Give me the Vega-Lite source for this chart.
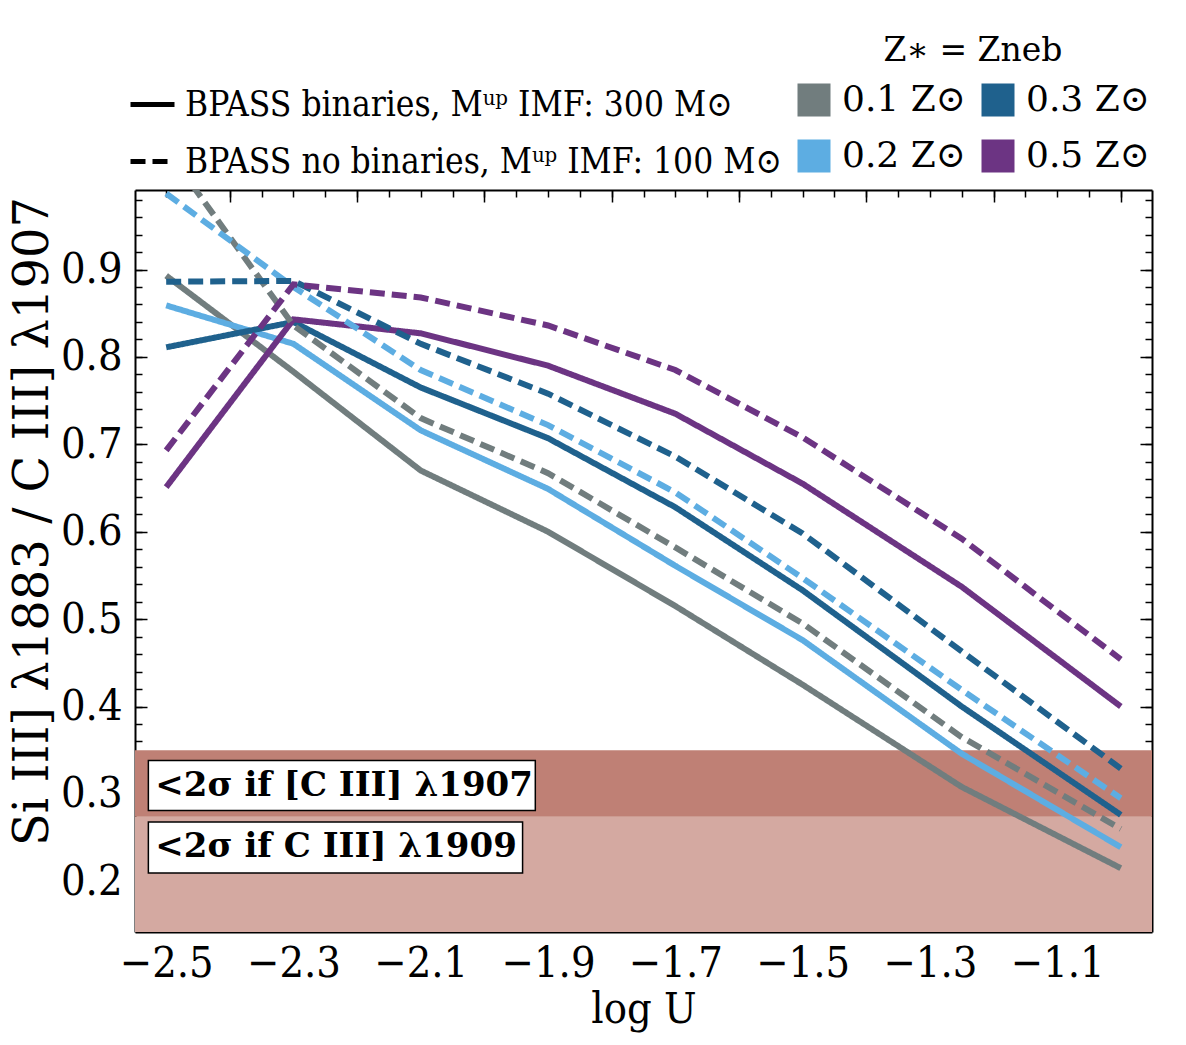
{
  "$schema": "https://vega.github.io/schema/vega-lite/v6.json",
  "autosize": {"type": "none"},
  "padding": {"left": 135, "top": 190, "right": 34, "bottom": 113},
  "width": 1017,
  "height": 742,
  "background": "white",
  "config": {
    "view": {"stroke": null},
    "axis": {"grid": false, "zindex": 1, "tickColor": "black", "domainColor": "black", "labelColor": "black", "titleColor": "black", "labelFont": "'DejaVu Serif Condensed', 'DejaVu Serif', serif", "titleFont": "'DejaVu Serif Condensed', 'DejaVu Serif', serif", "labelFontSize": 43, "titleFontSize": 43, "titleFontWeight": "normal", "tickWidth": 1.5, "domainWidth": 2},
    "legend": {"labelFont": "'DejaVu Serif', serif", "titleFont": "'DejaVu Serif', serif", "labelColor": "black", "titleColor": "black"}
  },
  "datasets": {
    "lines": [
      {"u": -2.5, "r": 0.893, "Z": "0.1 Z⊙", "m": "BPASS binaries, Mᵘᵖ IMF: 300 M⊙"},
      {"u": -2.3, "r": 0.783, "Z": "0.1 Z⊙", "m": "BPASS binaries, Mᵘᵖ IMF: 300 M⊙"},
      {"u": -2.1, "r": 0.670, "Z": "0.1 Z⊙", "m": "BPASS binaries, Mᵘᵖ IMF: 300 M⊙"},
      {"u": -1.9, "r": 0.600, "Z": "0.1 Z⊙", "m": "BPASS binaries, Mᵘᵖ IMF: 300 M⊙"},
      {"u": -1.7, "r": 0.515, "Z": "0.1 Z⊙", "m": "BPASS binaries, Mᵘᵖ IMF: 300 M⊙"},
      {"u": -1.5, "r": 0.425, "Z": "0.1 Z⊙", "m": "BPASS binaries, Mᵘᵖ IMF: 300 M⊙"},
      {"u": -1.25, "r": 0.308, "Z": "0.1 Z⊙", "m": "BPASS binaries, Mᵘᵖ IMF: 300 M⊙"},
      {"u": -1.0, "r": 0.215, "Z": "0.1 Z⊙", "m": "BPASS binaries, Mᵘᵖ IMF: 300 M⊙"},

      {"u": -2.5, "r": 0.859, "Z": "0.2 Z⊙", "m": "BPASS binaries, Mᵘᵖ IMF: 300 M⊙"},
      {"u": -2.3, "r": 0.815, "Z": "0.2 Z⊙", "m": "BPASS binaries, Mᵘᵖ IMF: 300 M⊙"},
      {"u": -2.1, "r": 0.716, "Z": "0.2 Z⊙", "m": "BPASS binaries, Mᵘᵖ IMF: 300 M⊙"},
      {"u": -1.9, "r": 0.649, "Z": "0.2 Z⊙", "m": "BPASS binaries, Mᵘᵖ IMF: 300 M⊙"},
      {"u": -1.7, "r": 0.561, "Z": "0.2 Z⊙", "m": "BPASS binaries, Mᵘᵖ IMF: 300 M⊙"},
      {"u": -1.5, "r": 0.476, "Z": "0.2 Z⊙", "m": "BPASS binaries, Mᵘᵖ IMF: 300 M⊙"},
      {"u": -1.25, "r": 0.346, "Z": "0.2 Z⊙", "m": "BPASS binaries, Mᵘᵖ IMF: 300 M⊙"},
      {"u": -1.0, "r": 0.239, "Z": "0.2 Z⊙", "m": "BPASS binaries, Mᵘᵖ IMF: 300 M⊙"},

      {"u": -2.5, "r": 0.811, "Z": "0.3 Z⊙", "m": "BPASS binaries, Mᵘᵖ IMF: 300 M⊙"},
      {"u": -2.3, "r": 0.840, "Z": "0.3 Z⊙", "m": "BPASS binaries, Mᵘᵖ IMF: 300 M⊙"},
      {"u": -2.1, "r": 0.765, "Z": "0.3 Z⊙", "m": "BPASS binaries, Mᵘᵖ IMF: 300 M⊙"},
      {"u": -1.9, "r": 0.707, "Z": "0.3 Z⊙", "m": "BPASS binaries, Mᵘᵖ IMF: 300 M⊙"},
      {"u": -1.7, "r": 0.628, "Z": "0.3 Z⊙", "m": "BPASS binaries, Mᵘᵖ IMF: 300 M⊙"},
      {"u": -1.5, "r": 0.533, "Z": "0.3 Z⊙", "m": "BPASS binaries, Mᵘᵖ IMF: 300 M⊙"},
      {"u": -1.25, "r": 0.400, "Z": "0.3 Z⊙", "m": "BPASS binaries, Mᵘᵖ IMF: 300 M⊙"},
      {"u": -1.0, "r": 0.276, "Z": "0.3 Z⊙", "m": "BPASS binaries, Mᵘᵖ IMF: 300 M⊙"},

      {"u": -2.5, "r": 0.651, "Z": "0.5 Z⊙", "m": "BPASS binaries, Mᵘᵖ IMF: 300 M⊙"},
      {"u": -2.3, "r": 0.843, "Z": "0.5 Z⊙", "m": "BPASS binaries, Mᵘᵖ IMF: 300 M⊙"},
      {"u": -2.1, "r": 0.827, "Z": "0.5 Z⊙", "m": "BPASS binaries, Mᵘᵖ IMF: 300 M⊙"},
      {"u": -1.9, "r": 0.790, "Z": "0.5 Z⊙", "m": "BPASS binaries, Mᵘᵖ IMF: 300 M⊙"},
      {"u": -1.7, "r": 0.735, "Z": "0.5 Z⊙", "m": "BPASS binaries, Mᵘᵖ IMF: 300 M⊙"},
      {"u": -1.5, "r": 0.655, "Z": "0.5 Z⊙", "m": "BPASS binaries, Mᵘᵖ IMF: 300 M⊙"},
      {"u": -1.25, "r": 0.537, "Z": "0.5 Z⊙", "m": "BPASS binaries, Mᵘᵖ IMF: 300 M⊙"},
      {"u": -1.0, "r": 0.400, "Z": "0.5 Z⊙", "m": "BPASS binaries, Mᵘᵖ IMF: 300 M⊙"},

      {"u": -2.5, "r": 1.038, "Z": "0.1 Z⊙", "m": "BPASS no binaries, Mᵘᵖ IMF: 100 M⊙"},
      {"u": -2.3, "r": 0.836, "Z": "0.1 Z⊙", "m": "BPASS no binaries, Mᵘᵖ IMF: 100 M⊙"},
      {"u": -2.1, "r": 0.730, "Z": "0.1 Z⊙", "m": "BPASS no binaries, Mᵘᵖ IMF: 100 M⊙"},
      {"u": -1.9, "r": 0.667, "Z": "0.1 Z⊙", "m": "BPASS no binaries, Mᵘᵖ IMF: 100 M⊙"},
      {"u": -1.7, "r": 0.582, "Z": "0.1 Z⊙", "m": "BPASS no binaries, Mᵘᵖ IMF: 100 M⊙"},
      {"u": -1.5, "r": 0.495, "Z": "0.1 Z⊙", "m": "BPASS no binaries, Mᵘᵖ IMF: 100 M⊙"},
      {"u": -1.25, "r": 0.365, "Z": "0.1 Z⊙", "m": "BPASS no binaries, Mᵘᵖ IMF: 100 M⊙"},
      {"u": -1.0, "r": 0.260, "Z": "0.1 Z⊙", "m": "BPASS no binaries, Mᵘᵖ IMF: 100 M⊙"},

      {"u": -2.5, "r": 0.987, "Z": "0.2 Z⊙", "m": "BPASS no binaries, Mᵘᵖ IMF: 100 M⊙"},
      {"u": -2.3, "r": 0.880, "Z": "0.2 Z⊙", "m": "BPASS no binaries, Mᵘᵖ IMF: 100 M⊙"},
      {"u": -2.1, "r": 0.785, "Z": "0.2 Z⊙", "m": "BPASS no binaries, Mᵘᵖ IMF: 100 M⊙"},
      {"u": -1.9, "r": 0.722, "Z": "0.2 Z⊙", "m": "BPASS no binaries, Mᵘᵖ IMF: 100 M⊙"},
      {"u": -1.7, "r": 0.645, "Z": "0.2 Z⊙", "m": "BPASS no binaries, Mᵘᵖ IMF: 100 M⊙"},
      {"u": -1.5, "r": 0.547, "Z": "0.2 Z⊙", "m": "BPASS no binaries, Mᵘᵖ IMF: 100 M⊙"},
      {"u": -1.25, "r": 0.419, "Z": "0.2 Z⊙", "m": "BPASS no binaries, Mᵘᵖ IMF: 100 M⊙"},
      {"u": -1.0, "r": 0.295, "Z": "0.2 Z⊙", "m": "BPASS no binaries, Mᵘᵖ IMF: 100 M⊙"},

      {"u": -2.5, "r": 0.886, "Z": "0.3 Z⊙", "m": "BPASS no binaries, Mᵘᵖ IMF: 100 M⊙"},
      {"u": -2.3, "r": 0.887, "Z": "0.3 Z⊙", "m": "BPASS no binaries, Mᵘᵖ IMF: 100 M⊙"},
      {"u": -2.1, "r": 0.815, "Z": "0.3 Z⊙", "m": "BPASS no binaries, Mᵘᵖ IMF: 100 M⊙"},
      {"u": -1.9, "r": 0.758, "Z": "0.3 Z⊙", "m": "BPASS no binaries, Mᵘᵖ IMF: 100 M⊙"},
      {"u": -1.7, "r": 0.686, "Z": "0.3 Z⊙", "m": "BPASS no binaries, Mᵘᵖ IMF: 100 M⊙"},
      {"u": -1.5, "r": 0.598, "Z": "0.3 Z⊙", "m": "BPASS no binaries, Mᵘᵖ IMF: 100 M⊙"},
      {"u": -1.25, "r": 0.463, "Z": "0.3 Z⊙", "m": "BPASS no binaries, Mᵘᵖ IMF: 100 M⊙"},
      {"u": -1.0, "r": 0.329, "Z": "0.3 Z⊙", "m": "BPASS no binaries, Mᵘᵖ IMF: 100 M⊙"},

      {"u": -2.5, "r": 0.693, "Z": "0.5 Z⊙", "m": "BPASS no binaries, Mᵘᵖ IMF: 100 M⊙"},
      {"u": -2.3, "r": 0.883, "Z": "0.5 Z⊙", "m": "BPASS no binaries, Mᵘᵖ IMF: 100 M⊙"},
      {"u": -2.1, "r": 0.868, "Z": "0.5 Z⊙", "m": "BPASS no binaries, Mᵘᵖ IMF: 100 M⊙"},
      {"u": -1.9, "r": 0.836, "Z": "0.5 Z⊙", "m": "BPASS no binaries, Mᵘᵖ IMF: 100 M⊙"},
      {"u": -1.7, "r": 0.785, "Z": "0.5 Z⊙", "m": "BPASS no binaries, Mᵘᵖ IMF: 100 M⊙"},
      {"u": -1.5, "r": 0.708, "Z": "0.5 Z⊙", "m": "BPASS no binaries, Mᵘᵖ IMF: 100 M⊙"},
      {"u": -1.25, "r": 0.592, "Z": "0.5 Z⊙", "m": "BPASS no binaries, Mᵘᵖ IMF: 100 M⊙"},
      {"u": -1.0, "r": 0.454, "Z": "0.5 Z⊙", "m": "BPASS no binaries, Mᵘᵖ IMF: 100 M⊙"}
    ]
  },
  "resolve": {"axis": {"x": "independent", "y": "independent"}},
  "layer": [
    {
      "data": {"values": [{"lo": 0.1, "hi": 0.274}]},
      "mark": {"type": "rect", "color": "#d4a9a1", "clip": true},
      "encoding": {
        "y": {"field": "lo", "type": "quantitative", "scale": {"domain": [0.142, 0.991], "nice": false, "zero": false}, "axis": null},
        "y2": {"field": "hi"}
      }
    },
    {
      "data": {"values": [{"lo": 0.274, "hi": 0.35}]},
      "mark": {"type": "rect", "color": "#bf8075", "clip": true},
      "encoding": {
        "y": {"field": "lo", "type": "quantitative", "scale": {"domain": [0.142, 0.991], "nice": false, "zero": false}, "axis": null},
        "y2": {"field": "hi"}
      }
    },
    {
      "data": {"name": "lines"},
      "mark": {"type": "line", "strokeWidth": 6, "clip": true},
      "encoding": {
        "x": {"field": "u", "type": "quantitative", "scale": {"domain": [-2.549, -0.951], "nice": false, "zero": false},
          "axis": {"orient": "bottom", "values": [-2.5, -2.3, -2.1, -1.9, -1.7, -1.5, -1.3, -1.1], "format": ".1f", "tickSize": -12, "labelPadding": 22, "title": "log U", "titlePadding": 3, "domain": true}},
        "y": {"field": "r", "type": "quantitative", "scale": {"domain": [0.142, 0.991], "nice": false, "zero": false},
          "axis": {"orient": "left", "values": [0.2, 0.3, 0.4, 0.5, 0.6, 0.7, 0.8, 0.9], "format": ".1f", "tickSize": -12, "labelPadding": 25, "title": "Si III] λ1883 / C III] λ1907", "titleFont": "'DejaVu Serif', serif", "titleFontSize": 48, "titleX": -102, "titleY": 331, "titleBaseline": "middle", "titleAngle": 270, "domain": true}},
        "color": {"field": "Z", "type": "nominal",
          "scale": {"domain": ["0.1 Z⊙", "0.2 Z⊙", "0.3 Z⊙", "0.5 Z⊙"], "range": ["#717D7E", "#5DADE2", "#1F618D", "#6C3483"]},
          "legend": {"orient": "none", "legendX": 661, "legendY": -155, "title": "Z∗ = Zneb", "titleFontSize": 33, "titleFontWeight": "normal", "titleAnchor": "middle", "titlePadding": 14, "columns": 2, "columnPadding": 14, "rowPadding": 20, "symbolType": "square", "symbolSize": 1089, "labelFontSize": 36, "labelOffset": 10, "labelLimit": 400,
            "encode": {"symbols": {"update": {"fill": {"scale": "color", "field": "value"}, "strokeWidth": {"value": 0}, "opacity": {"value": 1}}}}}},
        "strokeDash": {"field": "m", "type": "nominal",
          "scale": {"domain": ["BPASS binaries, Mᵘᵖ IMF: 300 M⊙", "BPASS no binaries, Mᵘᵖ IMF: 100 M⊙"], "range": [[1, 0], [15, 7]]},
          "legend": {"orient": "none", "legendX": -7, "legendY": -110, "title": null, "symbolType": "stroke", "symbolSize": 1936, "symbolStrokeWidth": 5, "symbolStrokeColor": "black", "labelFont": "'DejaVu Serif Condensed', 'DejaVu Serif', serif", "labelFontSize": 35, "labelOffset": 8, "rowPadding": 14, "labelLimit": 800}}
      }
    },
    {
      "data": {"values": [{"x1": -2.528, "x2": -1.920, "y1": 0.2809, "y2": 0.3381}, {"x1": -2.528, "x2": -1.940, "y1": 0.2096, "y2": 0.2680}]},
      "mark": {"type": "rect", "fill": "white", "stroke": "black", "strokeWidth": 1.5},
      "encoding": {
        "x": {"field": "x1", "type": "quantitative", "scale": {"domain": [-2.549, -0.951], "nice": false, "zero": false}, "axis": null},
        "x2": {"field": "x2"},
        "y": {"field": "y1", "type": "quantitative", "scale": {"domain": [0.142, 0.991], "nice": false, "zero": false}, "axis": null},
        "y2": {"field": "y2"}
      }
    },
    {
      "data": {"values": [{"x": -2.517, "y": 0.309, "t": "<2σ if [C III] λ1907"}, {"x": -2.517, "y": 0.239, "t": "<2σ if C III] λ1909"}]},
      "mark": {"type": "text", "align": "left", "baseline": "middle", "font": "'DejaVu Serif', serif", "fontWeight": "bold", "fontSize": 34, "color": "black"},
      "encoding": {
        "x": {"field": "x", "type": "quantitative", "scale": {"domain": [-2.549, -0.951], "nice": false, "zero": false}, "axis": null},
        "y": {"field": "y", "type": "quantitative", "scale": {"domain": [0.142, 0.991], "nice": false, "zero": false}, "axis": null},
        "text": {"field": "t"}
      }
    },
    {
      "data": {"name": "lines"},
      "mark": {"type": "point", "opacity": 0},
      "encoding": {
        "x": {"field": "u", "type": "quantitative", "scale": {"domain": [-2.549, -0.951], "nice": false, "zero": false},
          "axis": {"orient": "bottom", "values": [-2.5, -2.45, -2.4, -2.35, -2.3, -2.25, -2.2, -2.15, -2.1, -2.05, -2.0, -1.95, -1.9, -1.85, -1.8, -1.75, -1.7, -1.65, -1.6, -1.55, -1.5, -1.45, -1.4, -1.35, -1.3, -1.25, -1.2, -1.15, -1.1, -1.05, -1.0], "labels": false, "tickSize": -7, "domain": false, "title": null}},
        "y": {"field": "r", "type": "quantitative", "scale": {"domain": [0.142, 0.991], "nice": false, "zero": false},
          "axis": {"orient": "left", "values": [0.16, 0.18, 0.2, 0.22, 0.24, 0.26, 0.28, 0.3, 0.32, 0.34, 0.36, 0.38, 0.4, 0.42, 0.44, 0.46, 0.48, 0.5, 0.52, 0.54, 0.56, 0.58, 0.6, 0.62, 0.64, 0.66, 0.68, 0.7, 0.72, 0.74, 0.76, 0.78, 0.8, 0.82, 0.84, 0.86, 0.88, 0.9, 0.92, 0.94, 0.96, 0.98], "labels": false, "tickSize": -7, "domain": false, "title": null}}
      }
    },
    {
      "data": {"name": "lines"},
      "mark": {"type": "point", "opacity": 0},
      "encoding": {
        "x": {"field": "u", "type": "quantitative", "scale": {"domain": [-2.549, -0.951], "nice": false, "zero": false},
          "axis": {"orient": "top", "values": [-2.4, -2.2, -2.0, -1.8, -1.6, -1.4, -1.2, -1.0], "labels": false, "tickSize": -12, "domain": true, "title": null}},
        "y": {"field": "r", "type": "quantitative", "scale": {"domain": [0.142, 0.991], "nice": false, "zero": false},
          "axis": {"orient": "right", "values": [0.2, 0.3, 0.4, 0.5, 0.6, 0.7, 0.8, 0.9], "labels": false, "tickSize": -12, "domain": true, "title": null}}
      }
    },
    {
      "data": {"name": "lines"},
      "mark": {"type": "point", "opacity": 0},
      "encoding": {
        "x": {"field": "u", "type": "quantitative", "scale": {"domain": [-2.549, -0.951], "nice": false, "zero": false},
          "axis": {"orient": "top", "values": [-2.5, -2.45, -2.4, -2.35, -2.3, -2.25, -2.2, -2.15, -2.1, -2.05, -2.0, -1.95, -1.9, -1.85, -1.8, -1.75, -1.7, -1.65, -1.6, -1.55, -1.5, -1.45, -1.4, -1.35, -1.3, -1.25, -1.2, -1.15, -1.1, -1.05, -1.0], "labels": false, "tickSize": -7, "domain": false, "title": null}},
        "y": {"field": "r", "type": "quantitative", "scale": {"domain": [0.142, 0.991], "nice": false, "zero": false},
          "axis": {"orient": "right", "values": [0.16, 0.18, 0.2, 0.22, 0.24, 0.26, 0.28, 0.3, 0.32, 0.34, 0.36, 0.38, 0.4, 0.42, 0.44, 0.46, 0.48, 0.5, 0.52, 0.54, 0.56, 0.58, 0.6, 0.62, 0.64, 0.66, 0.68, 0.7, 0.72, 0.74, 0.76, 0.78, 0.8, 0.82, 0.84, 0.86, 0.88, 0.9, 0.92, 0.94, 0.96, 0.98], "labels": false, "tickSize": -7, "domain": false, "title": null}}
      }
    }
  ]
}
